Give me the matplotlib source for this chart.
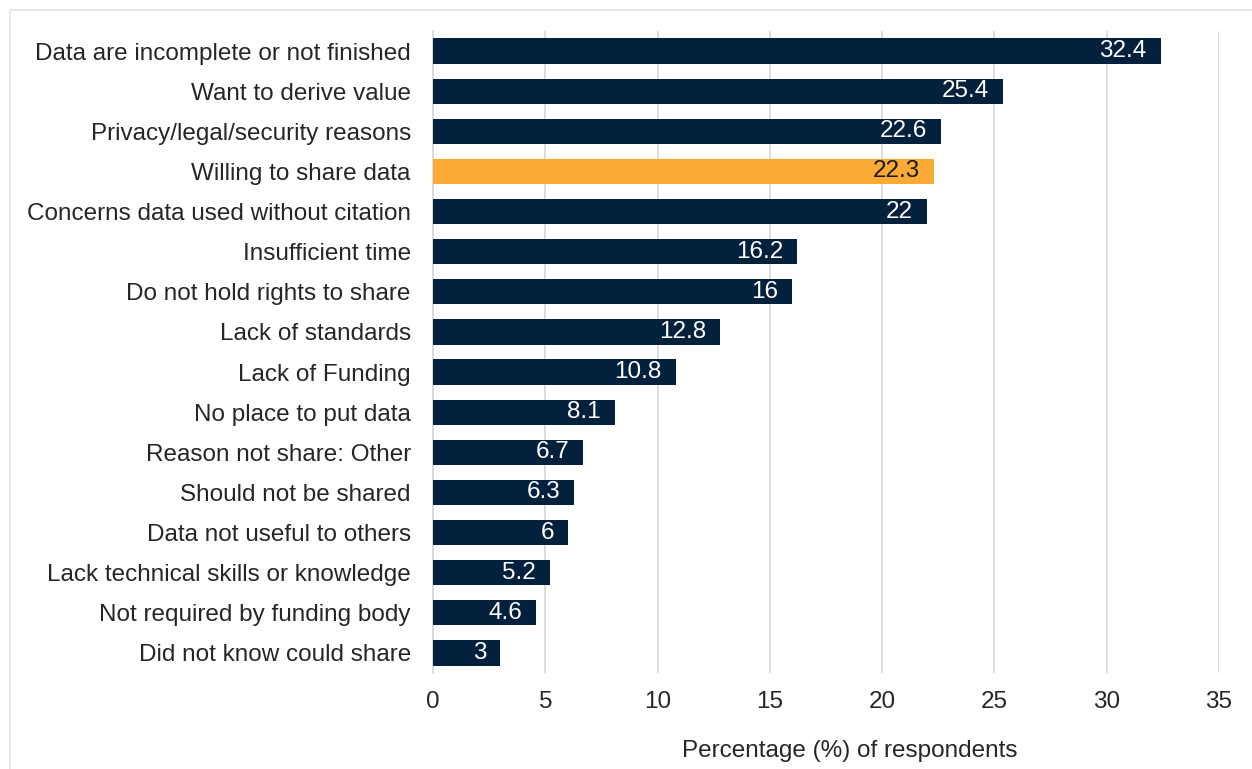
import matplotlib.pyplot as plt
from matplotlib.patches import Rectangle

# data
reasons = ['Data are incomplete or not finished', 'Want to derive value',
           'Privacy/legal/security reasons', 'Willing to share data',
           'Concerns data used without citation', 'Insufficient time',
           'Do not hold rights to share', 'Lack of standards', 'Lack of Funding',
           'No place to put data', 'Reason not share: Other', 'Should not be shared',
           'Data not useful to others', 'Lack technical skills or knowledge',
           'Not required by funding body', 'Did not know could share']
values = [32.4, 25.4, 22.6, 22.3, 22, 16.2, 16, 12.8, 10.8, 8.1, 6.7, 6.3, 6, 5.2, 4.6, 3]
value_labels = ['32.4', '25.4', '22.6', '22.3', '22', '16.2', '16', '12.8', '10.8',
                '8.1', '6.7', '6.3', '6', '5.2', '4.6', '3']
highlight = 'Willing to share data'
xticks = [0, 5, 10, 15, 20, 25, 30, 35]

navy = '#03203c'
orange = '#fbab35'
fs = 17.5
plt.rcParams['font.family'] = ['Liberation Sans', 'DejaVu Sans']

fig = plt.figure(figsize=(12.52, 7.69), dpi=100)
ax = fig.add_axes([433/1252, 1 - 673/769, 786/1252, 642/769])

# outer frame (only top and left edges visible)
fig.patches.append(Rectangle((10/1252, -0.05), 1.1, 1.05 - 10/769, transform=fig.transFigure,
                             fill=False, edgecolor='#e3e3e3', linewidth=1.2))

ypos = list(range(len(reasons)))
colors = [orange if r == highlight else navy for r in reasons]
ax.barh(ypos, values, height=0.63, color=colors, zorder=3)

for y, v, lab, r in zip(ypos, values, value_labels, reasons):
    ax.text(v - 0.62, y, lab, ha='right', va='center', fontsize=fs,
            color='#1a1a1a' if r == highlight else 'white', zorder=4)

ax.set_ylim(len(reasons) - 0.5, -0.5)
ax.set_xlim(0, 35)
ax.set_yticks(ypos)
ax.set_yticklabels(reasons, fontsize=fs, color='#262626')
ax.set_xticks(xticks)
ax.set_xticklabels([str(t) for t in xticks], fontsize=fs, color='#262626')
ax.tick_params(axis='y', length=0, pad=16)
ax.tick_params(axis='x', length=0, pad=13)
ax.grid(axis='x', color='#d9d9d9', linewidth=1.3, zorder=0)
for s in ['top', 'right', 'bottom']:
    ax.spines[s].set_visible(False)
ax.spines['left'].set_color('#d9d9d9')
ax.spines['left'].set_linewidth(1.3)

fig.text(850/1252, 1 - 751/769, 'Percentage (%) of respondents', ha='center', va='center',
         fontsize=fs, color='#262626')

fig.savefig('out.png', dpi=100, facecolor='white')
